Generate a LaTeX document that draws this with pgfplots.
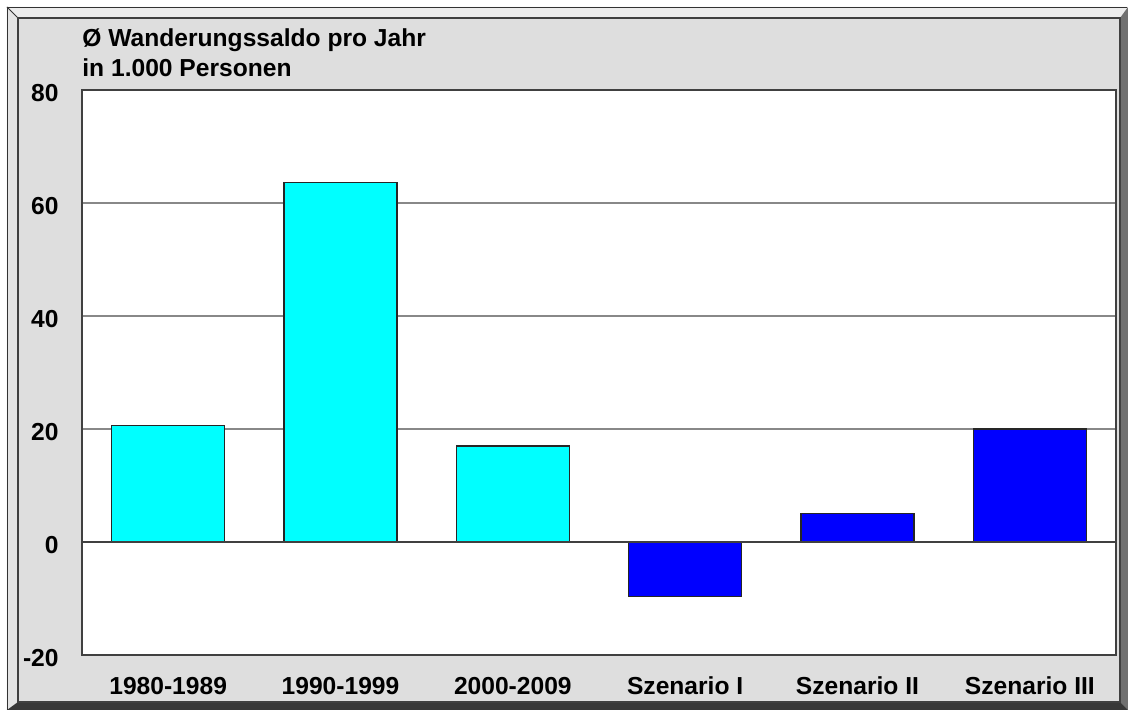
\documentclass[border=0pt]{standalone}
\usepackage{fontspec}
\setmainfont{Liberation Sans}
\usepackage{pgfplots}
\pgfplotsset{compat=1.18}
\definecolor{panel}{HTML}{DEDEDE}
\definecolor{topc}{HTML}{ECECEC}
\definecolor{leftc}{HTML}{E4E4E4}
\definecolor{rightc}{HTML}{707070}
\definecolor{bottomc}{HTML}{383838}
\definecolor{gridc}{HTML}{888888}
\definecolor{barcyan}{HTML}{00FFFF}
\definecolor{barblue}{HTML}{0000FF}
\begin{document}
\begin{tikzpicture}
\begin{scope}[xshift=-41pt,yshift=327.5pt,x=0.5pt,y=-0.5pt]
  \fill[white] (0,0) rectangle (1128,710);
  \fill[topc] (7,7) -- (1128,7) -- (1120,18) -- (18,18) -- cycle;
  \fill[leftc] (7,7) -- (18,18) -- (18,702) -- (7,710) -- cycle;
  \fill[rightc] (1128,7) -- (1128,710) -- (1120,702) -- (1120,18) -- cycle;
  \fill[bottomc] (7,710) -- (1128,710) -- (1120,702) -- (18,702) -- cycle;
  \draw[black!80, line width=0.5pt] (7,7) -- (18,18);
  \draw[black!80, line width=0.5pt] (7.5,710) -- (7.5,7.5) -- (1127,7.5);
  \fill[panel] (18,18) rectangle (1120,702);
  \draw[black!75, line width=0.6pt] (18,18) rectangle (1120,702);
\end{scope}
\begin{axis}[
  at={(0,0)}, anchor=south west,
  scale only axis, width=517pt, height=282.5pt,
  xmin=-0.5, xmax=5.5, ymin=-20, ymax=80,
  ytick={-20,0,20,40,60,80},
  xtick={0,1,2,3,4,5},
  xticklabels={1980-1989,1990-1999,2000-2009,Szenario I,Szenario II,Szenario III},
  major tick length=0pt,
  ymajorgrids,
  grid style={draw=gridc, line width=1pt},
  axis line style={draw=black!75, line width=0.6pt},
  axis background/.style={fill=white},
  /pgf/number format/assume math mode=true,
  tick label style={font=\fontsize{12.3}{14}\selectfont\bfseries},
  yticklabel style={inner sep=0pt, xshift=-11.5pt, yshift=-1.5pt},
  xticklabel style={inner sep=0pt, anchor=base, yshift=-20pt},
  ybar, bar width=56.5pt, bar shift=0pt,
]
\addplot[fill=barcyan, draw=black!85, line width=0.6pt] coordinates {(0,20.6) (1,63.6) (2,17.0)};
\addplot[fill=barblue, draw=black!85, line width=0.6pt] coordinates {(3,-9.6) (4,5.0) (5,20.0)};
\draw[black!75, line width=0.9pt] (axis cs:-0.5,0) -- (axis cs:5.5,0);
\end{axis}
\node[anchor=base west, inner sep=0pt, font=\fontsize{12.3}{14}\selectfont\bfseries] at (0pt,304pt) {Ø Wanderungssaldo pro Jahr};
\node[anchor=base west, inner sep=0pt, font=\fontsize{12.3}{14}\selectfont\bfseries] at (0pt,289pt) {in 1.000 Personen};
\pgfresetboundingbox
\path[use as bounding box] (-41pt,-27.5pt) rectangle (523pt,327.5pt);
\end{tikzpicture}
\end{document}
